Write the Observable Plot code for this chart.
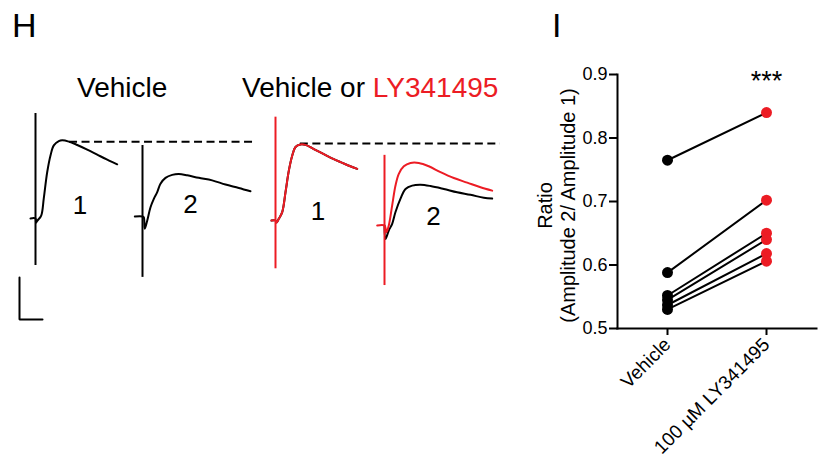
<!DOCTYPE html>
<html><head><meta charset="utf-8">
<script src="https://cdn.jsdelivr.net/npm/d3@7"></script>
<script src="https://cdn.jsdelivr.net/npm/@observablehq/plot@0.6"></script>
<style>
body{margin:0;background:#fff;}
#wrap{position:relative;width:825px;height:476px;overflow:hidden;background:#fff;font-family:"Liberation Sans",Arial,sans-serif;}
#wrap > svg{position:absolute;}
</style></head><body><div id="wrap"></div>
<script>
// ---------- Panel I data ----------
const conditions = ["Vehicle", "100 µM LY341495"];
const vehicleRatio = [0.765, 0.588, 0.552, 0.545, 0.537, 0.530];
const ly341495Ratio = [0.840, 0.702, 0.650, 0.640, 0.618, 0.606];
const yTicks = [0.5, 0.6, 0.7, 0.8, 0.9];
const yLabel = "Ratio\n(Amplitude 2/ Amplitude 1)";
const significance = "***";

// ---------- Panel H data: [time (ms from stimulus), amplitude (mV from baseline)] ----------
const vehicleTrace1 = [[-1.09,0],[0,0],[0.11,-0.10],[0.43,-0.05],[1.24,0.07],[1.80,0.48],[2.54,1.10],[3.26,1.50],[3.98,1.74],[5.07,1.84],[5.80,1.86],[7.24,1.83],[9.07,1.75],[11.24,1.64],[13.41,1.52],[15.59,1.40],[17.76,1.29]];
const vehicleTrace2 = [[-1.67,0],[0,0],[0.28,-0.02],[0.50,-0.29],[1.02,-0.10],[1.74,0.22],[2.46,0.42],[3.20,0.58],[3.91,0.78],[5.00,0.92],[6.46,0.99],[7.89,1.01],[9.72,0.98],[12.24,0.92],[15.15,0.86],[18.04,0.76],[20.93,0.68],[23.48,0.60]];
const controlTrace1 = [[-0.87,0],[0,0],[0.22,-0.05],[0.72,0.04],[1.46,0.20],[2.17,0.67],[2.89,1.18],[3.63,1.54],[4.35,1.75],[5.43,1.81],[6.52,1.80],[8.33,1.70],[10.50,1.58],[12.67,1.46],[15.22,1.34],[17.76,1.23]];
const lyTrace1 = [[-0.87,0],[0,0],[0.22,-0.05],[0.72,0.04],[1.46,0.20],[2.17,0.67],[2.89,1.18],[3.63,1.54],[4.35,1.75],[5.43,1.81],[6.52,1.80],[8.33,1.70],[10.50,1.58],[12.67,1.46],[15.22,1.34],[17.76,1.23]];
const controlTrace2 = [[0,0],[0.22,-0.32],[0.93,-0.12],[1.67,0.04],[2.39,0.32],[3.48,0.64],[4.57,0.87],[6.02,0.95],[7.83,0.97],[10.0,0.94],[12.89,0.87],[15.8,0.79],[18.70,0.73],[21.59,0.66],[23.41,0.64]];
const lyTrace2 = [[-1.59,0],[0,0],[0.43,-0.16],[0.93,0],[1.67,0.48],[2.39,0.95],[3.11,1.23],[4.20,1.41],[5.65,1.49],[7.46,1.49],[9.63,1.41],[12.17,1.27],[15.07,1.13],[17.98,1.02],[20.87,0.91],[23.41,0.83]];
// stimulus artifacts: [top, bottom] amplitude (mV)
const artifactVehicle1 = [2.50, -1.12];
const artifactVehicle2 = [1.69, -1.45];
const artifactLy1 = [2.46, -1.15];
const artifactLy2 = [1.67, -1.43];
const scaleBarMs = 5;
const scaleBarMv = 1;

const RED = "#ec1c24";
const FONT = "'Liberation Sans', Arial, Helvetica, sans-serif";
const wrap = document.getElementById("wrap");

// ---------- Panel H ----------
const trace = (data, color, dx, dy) => Plot.line(data, {x: d => d[0], y: d => d[1], stroke: color, strokeWidth: 2, curve: "catmull-rom", dx, dy});
const artifact = (a, color, dx, dy) => Plot.ruleX([0], {y1: a[0], y2: a[1], stroke: color, strokeWidth: 2, dx, dy});
const peak1 = d3.max(vehicleTrace1, d => d[1]);
const peakLy1 = d3.max(lyTrace1, d => d[1]);

const plotH = Plot.plot({
  width: 520, height: 340, margin: 0,
  x: {domain: [0, 113.04], axis: null},
  y: {domain: [-2.905, 5.190], axis: null},
  style: {background: "transparent", overflow: "visible"},
  marks: [
    Plot.ruleY([peak1], {x1: 7.4, x2: 47.2, dx: 35, dy: 1.5, stroke: "#000", strokeWidth: 2, strokeDasharray: "8,4.5"}),
    Plot.ruleY([peakLy1], {x1: 5.4, x2: 48.9, dx: 275, dy: 1, stroke: "#000", strokeWidth: 2, strokeDasharray: "8,4.5"}),
    artifact(artifactVehicle1, "#000", 35, 0),
    trace(vehicleTrace1, "#000", 35, 0),
    artifact(artifactVehicle2, "#000", 142, -2),
    trace(vehicleTrace2, "#000", 142, -2),
    trace(controlTrace1, "#000", 275, 2),
    artifact(artifactLy1, RED, 275, 2),
    trace(lyTrace1, RED, 275, 2),
    trace(controlTrace2, "#000", 384, 7),
    artifact(artifactLy2, RED, 384, 7),
    trace(lyTrace2, RED, 384, 7),
    Plot.line([[0, scaleBarMv], [0, 0], [scaleBarMs, 0]], {x: d => d[0], y: d => d[1], dx: 19, dy: 101, stroke: "#000", strokeWidth: 2, strokeLinejoin: "miter"})
  ]
});
plotH.style.left = "0px"; plotH.style.top = "0px";
wrap.appendChild(plotH);

// ---------- Panel I ----------
const pts = vehicleRatio.flatMap((v, i) => [
  {id: i, cond: conditions[0], v},
  {id: i, cond: conditions[1], v: ly341495Ratio[i]}
]);
const plotI = Plot.plot({
  width: 285, height: 476,
  marginLeft: 77, marginRight: 9, marginTop: 74, marginBottom: 148,
  style: {fontFamily: FONT, fontSize: "18px", color: "#000", background: "transparent", overflow: "visible"},
  x: {type: "point", domain: conditions, padding: 0.5},
  y: {domain: [0.5, 0.9]},
  marks: [
    Plot.line(pts, {x: "cond", y: "v", z: "id", stroke: "#000", strokeWidth: 2}),
    Plot.dot(pts.filter(d => d.cond === conditions[0]), {x: "cond", y: "v", r: 5.5, fill: "#000"}),
    Plot.dot(pts.filter(d => d.cond === conditions[1]), {x: "cond", y: "v", r: 5.5, fill: RED}),
    Plot.axisY({ticks: yTicks, tickFormat: ".1f", tickSize: 8, tickPadding: 2, label: null, strokeWidth: 2, fontSize: 18}),
    Plot.axisX({tickSize: 7, tickPadding: 6, tickRotate: -45, label: null, strokeWidth: 2, fontSize: 19}),
    Plot.frame({anchor: "left", strokeWidth: 2}),
    Plot.frame({anchor: "bottom", strokeWidth: 2}),
    Plot.text([yLabel], {frameAnchor: "left", textAnchor: "middle", dx: -61, dy: 4, rotate: -90, fontSize: 20, lineHeight: 1.15}),
    Plot.text([significance], {x: () => conditions[1], y: () => 0.9, dy: 7, fontSize: 27})
  ]
});
plotI.style.left = "540px"; plotI.style.top = "0px";
wrap.appendChild(plotI);

// ---------- Titles and labels ----------
const over = d3.create("svg").attr("width", 825).attr("height", 476)
  .style("left", "0px").style("top", "0px").style("pointer-events", "none")
  .attr("font-family", FONT).attr("fill", "#000");
over.append("text").attr("x", 12).attr("y", 37).attr("font-size", 34).text("H");
over.append("text").attr("x", 552).attr("y", 37).attr("font-size", 34).text("I");
over.append("text").attr("x", 77).attr("y", 97).attr("font-size", 28).text("Vehicle");
const t2 = over.append("text").attr("x", 242).attr("y", 97).attr("font-size", 28);
t2.append("tspan").text("Vehicle or ");
t2.append("tspan").attr("fill", RED).text("LY341495");
const nums = [["1", 80, 214], ["2", 190.5, 213], ["1", 318, 220], ["2", 433.5, 225]];
for (const [s, x, y] of nums) over.append("text").attr("x", x).attr("y", y).attr("font-size", 26).attr("text-anchor", "middle").text(s);
wrap.appendChild(over.node());
</script>
</body></html>
